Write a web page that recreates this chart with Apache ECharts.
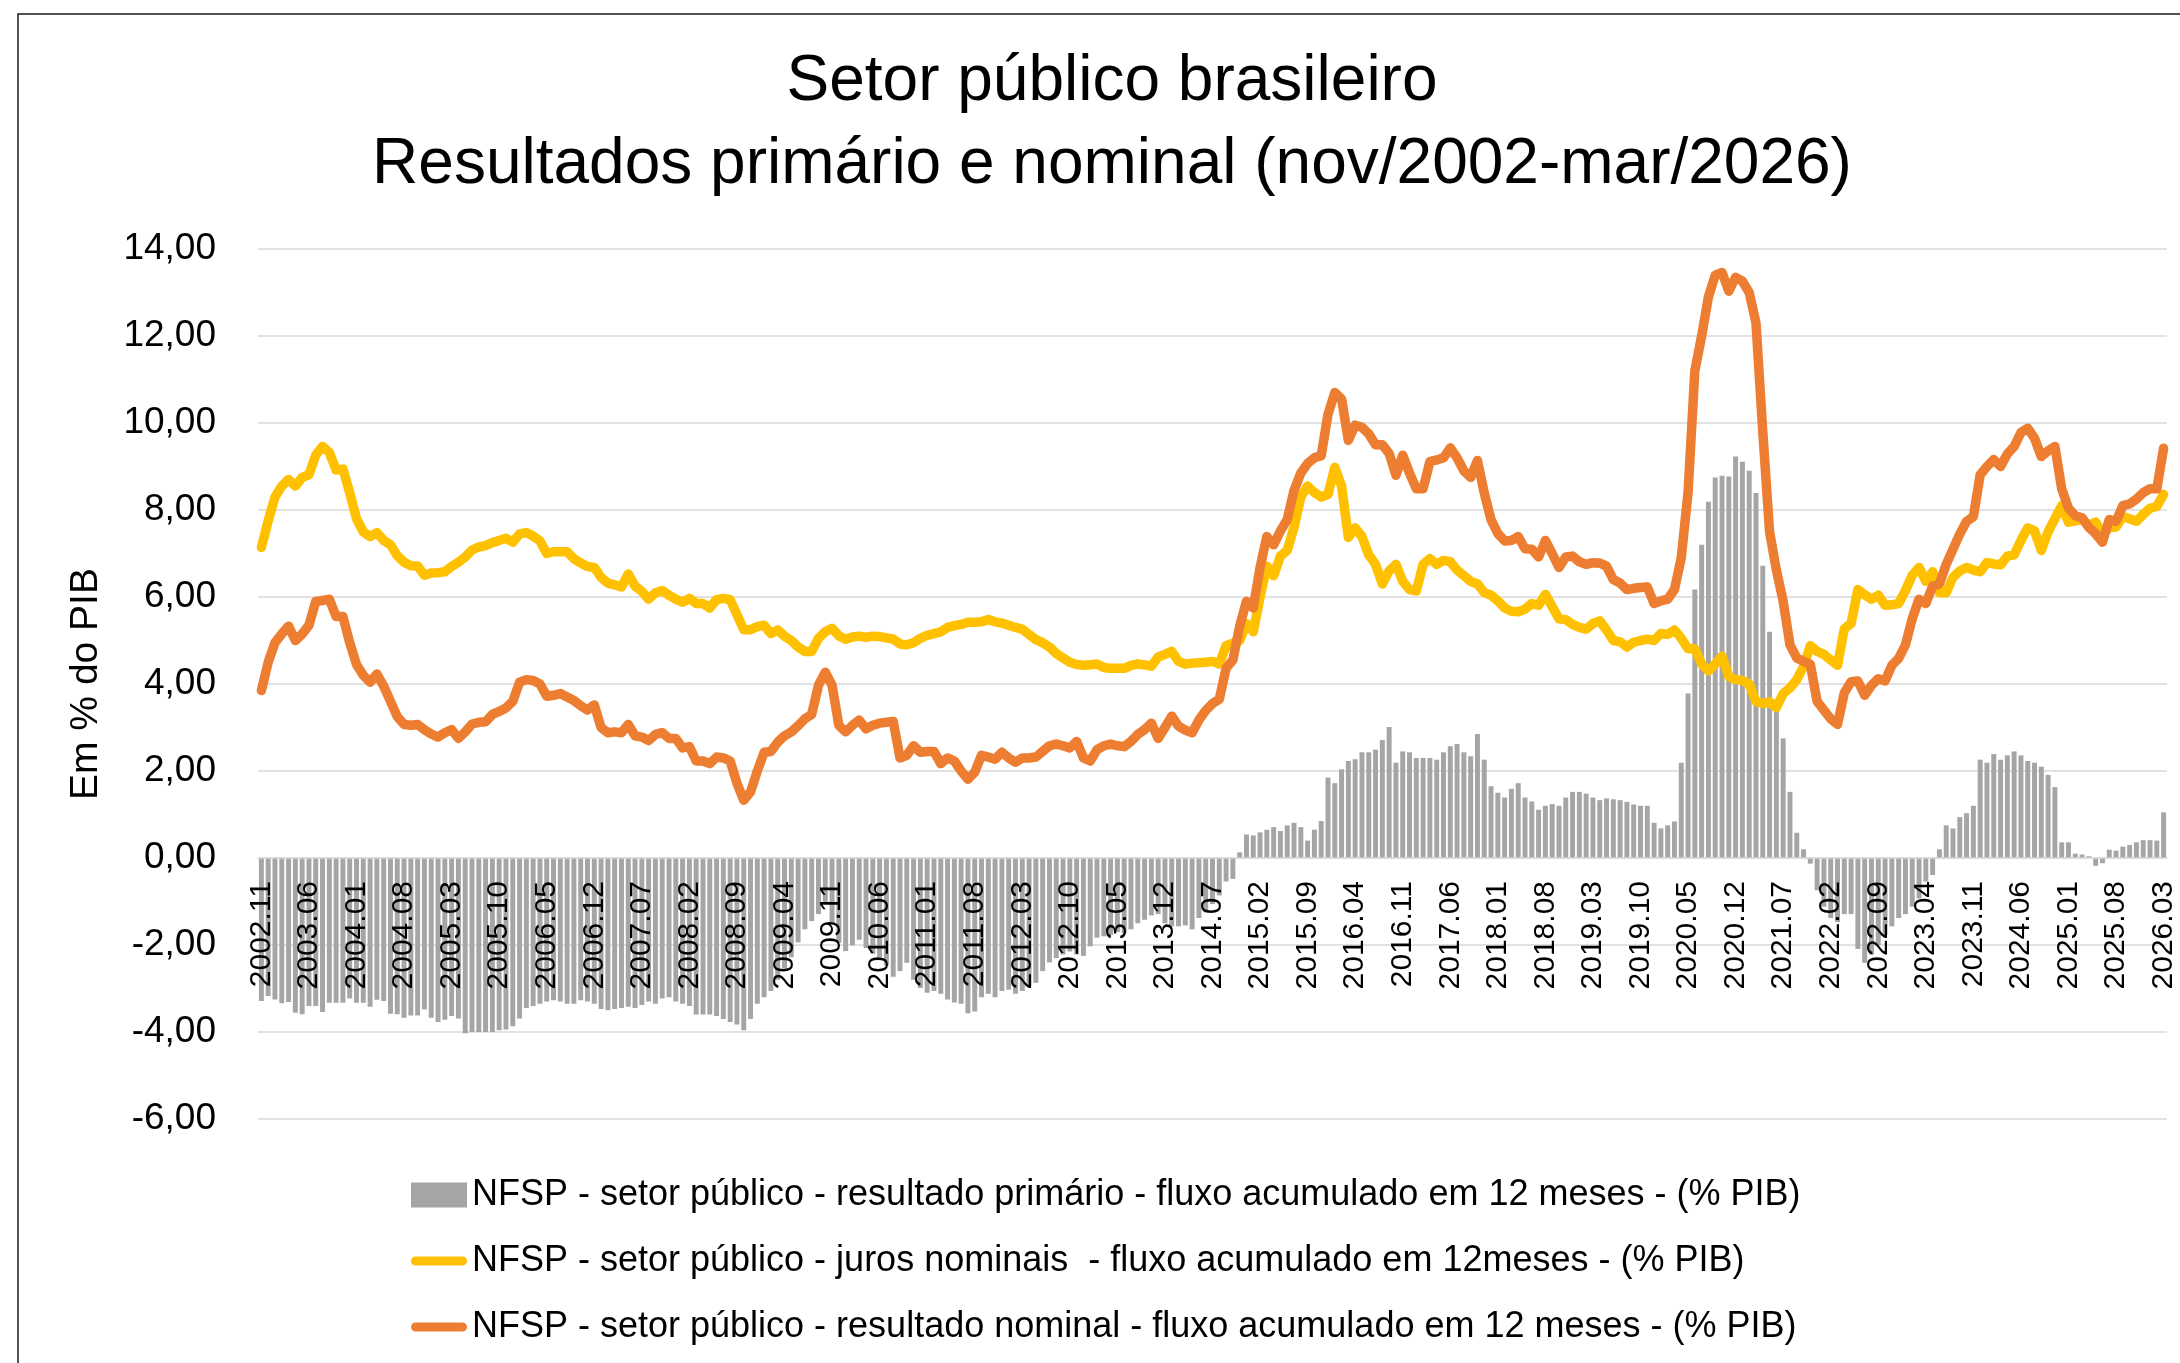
<!DOCTYPE html>
<html>
<head>
<meta charset="utf-8">
<title>Setor público brasileiro</title>
<script src="https://cdn.jsdelivr.net/npm/echarts@6.0.0/dist/echarts.min.js"></script>
<style>
    html, body { margin: 0; padding: 0; background: #fff; }
    #charts { width: 2180px; height: 1363px; }
</style>
</head>
<body>
<div id="charts"></div>
<script>
    // first month of the series: nov/2002, one value per month up to mar/2026
    var startYear = 2002;
    var startMonth = 11;

    // resultado primário, % PIB (negativo = superávit)
    var primario = [
        -3.29, -3.17, -3.25, -3.34, -3.31, -3.56, -3.59, -3.40, -3.40, -3.54, -3.33, -3.33,
        -3.33, -3.23, -3.33, -3.33, -3.42, -3.26, -3.29, -3.58, -3.59, -3.67, -3.62, -3.62,
        -3.48, -3.67, -3.77, -3.72, -3.63, -3.69, -4.03, -4.00, -4.00, -4.00, -4.00, -3.96,
        -3.94, -3.87, -3.69, -3.45, -3.40, -3.35, -3.30, -3.27, -3.30, -3.35, -3.35, -3.27,
        -3.30, -3.35, -3.47, -3.50, -3.47, -3.45, -3.42, -3.45, -3.38, -3.30, -3.35, -3.23,
        -3.20, -3.30, -3.35, -3.40, -3.60, -3.60, -3.60, -3.63, -3.70, -3.77, -3.83, -3.96,
        -3.70, -3.35, -3.20, -3.06, -2.80, -2.54, -2.28, -1.94, -1.64, -1.45, -1.29, -1.06,
        -1.50, -1.95, -2.14, -2.01, -1.88, -2.07, -2.20, -2.28, -2.47, -2.73, -2.60, -2.41,
        -2.80, -2.99, -3.10, -3.06, -3.12, -3.25, -3.32, -3.35, -3.57, -3.53, -3.20, -3.12,
        -3.20, -3.06, -3.03, -3.12, -3.06, -2.94, -2.87, -2.60, -2.40, -2.30, -2.22, -2.15,
        -2.22, -2.25, -2.03, -1.83, -1.80, -1.77, -1.70, -1.73, -1.64, -1.50, -1.42, -1.32,
        -1.29, -1.50, -1.57, -1.57, -1.55, -1.64, -1.38, -1.25, -1.06, -0.86, -0.54, -0.48,
        0.13, 0.54, 0.52, 0.59, 0.65, 0.71, 0.62, 0.75, 0.81, 0.71, 0.40, 0.65,
        0.85, 1.85, 1.72, 2.04, 2.23, 2.27, 2.43, 2.43, 2.49, 2.71, 3.01, 2.19,
        2.45, 2.43, 2.30, 2.30, 2.30, 2.26, 2.43, 2.57, 2.62, 2.43, 2.34, 2.85,
        2.26, 1.65, 1.50, 1.39, 1.59, 1.72, 1.39, 1.30, 1.11, 1.20, 1.24, 1.20,
        1.39, 1.52, 1.52, 1.48, 1.39, 1.33, 1.37, 1.35, 1.33, 1.29, 1.23, 1.20,
        1.20, 0.81, 0.68, 0.75, 0.84, 2.19, 3.78, 6.17, 7.20, 8.19, 8.75, 8.79,
        8.77, 9.23, 9.11, 8.90, 8.39, 6.72, 5.20, 3.43, 2.75, 1.52, 0.58, 0.20,
        -0.13, -0.74, -1.12, -1.38, -1.47, -1.29, -1.29, -2.09, -2.41, -2.22, -2.00, -1.77,
        -1.57, -1.38, -1.29, -1.12, -0.93, -0.54, -0.39, 0.20, 0.75, 0.68, 0.94, 1.03,
        1.20, 2.26, 2.19, 2.39, 2.26, 2.36, 2.45, 2.36, 2.23, 2.19, 2.10, 1.91,
        1.63, 0.36, 0.36, 0.10, 0.08, 0.04, -0.18, -0.12, 0.19, 0.17, 0.26, 0.30,
        0.36, 0.41, 0.41, 0.40, 1.05
    ];

    // juros nominais, % PIB
    var juros = [
        7.14, 7.75, 8.30, 8.55, 8.70, 8.55, 8.75, 8.81, 9.26, 9.46, 9.32, 8.92,
        8.94, 8.40, 7.80, 7.50, 7.39, 7.48, 7.30, 7.20, 6.95, 6.80, 6.72, 6.71,
        6.50, 6.55, 6.56, 6.58, 6.70, 6.80, 6.92, 7.08, 7.15, 7.18, 7.25, 7.30,
        7.35, 7.26, 7.45, 7.48, 7.40, 7.29, 7.00, 7.04, 7.04, 7.04, 6.88, 6.78,
        6.70, 6.68, 6.45, 6.32, 6.28, 6.23, 6.53, 6.25, 6.13, 5.95, 6.10, 6.15,
        6.04, 5.95, 5.88, 5.97, 5.85, 5.85, 5.75, 5.94, 5.97, 5.94, 5.60, 5.25,
        5.25, 5.32, 5.35, 5.16, 5.24, 5.10, 5.00, 4.85, 4.75, 4.75, 5.05, 5.20,
        5.28, 5.11, 5.03, 5.08, 5.10, 5.07, 5.10, 5.09, 5.06, 5.03, 4.92, 4.90,
        4.95, 5.05, 5.12, 5.16, 5.20, 5.30, 5.34, 5.37, 5.42, 5.42, 5.43, 5.48,
        5.43, 5.40, 5.35, 5.30, 5.26, 5.14, 5.02, 4.95, 4.85, 4.70, 4.60, 4.50,
        4.45, 4.43, 4.44, 4.46, 4.38, 4.36, 4.36, 4.36, 4.43, 4.46, 4.44, 4.41,
        4.62, 4.68, 4.75, 4.52, 4.46, 4.48, 4.49, 4.50, 4.52, 4.46, 4.88, 4.94,
        5.00, 5.39, 5.20, 6.00, 6.71, 6.49, 6.94, 7.07, 7.60, 8.30, 8.55, 8.40,
        8.30, 8.36, 8.98, 8.55, 7.37, 7.59, 7.39, 6.97, 6.75, 6.30, 6.60, 6.75,
        6.36, 6.17, 6.14, 6.75, 6.88, 6.75, 6.84, 6.81, 6.62, 6.49, 6.36, 6.30,
        6.10, 6.04, 5.91, 5.75, 5.67, 5.66, 5.72, 5.85, 5.81, 6.06, 5.78, 5.50,
        5.48, 5.37, 5.30, 5.26, 5.39, 5.45, 5.24, 5.00, 4.97, 4.85, 4.96, 5.00,
        5.03, 5.00, 5.16, 5.14, 5.24, 5.05, 4.81, 4.81, 4.46, 4.30, 4.46, 4.64,
        4.17, 4.10, 4.08, 4.00, 3.60, 3.55, 3.59, 3.46, 3.78, 3.91, 4.10, 4.40,
        4.88, 4.75, 4.68, 4.55, 4.43, 5.27, 5.39, 6.17, 6.05, 5.95, 6.04, 5.81,
        5.82, 5.85, 6.15, 6.50, 6.68, 6.36, 6.58, 6.10, 6.10, 6.45, 6.60, 6.68,
        6.62, 6.58, 6.79, 6.76, 6.74, 6.94, 6.97, 7.30, 7.59, 7.52, 7.07, 7.50,
        7.80, 8.10, 7.72, 7.75, 7.78, 7.65, 7.72, 7.46, 7.59, 7.61, 7.85, 7.80,
        7.74, 7.90, 8.04, 8.08, 8.36
    ];

    // resultado nominal, % PIB
    var nominal = [
        3.85, 4.50, 4.95, 5.15, 5.33, 5.00, 5.15, 5.35, 5.90, 5.92, 5.95, 5.55,
        5.55, 4.95, 4.45, 4.20, 4.04, 4.23, 3.95, 3.60, 3.25, 3.07, 3.05, 3.07,
        2.95, 2.85, 2.78, 2.88, 2.95, 2.75, 2.90, 3.08, 3.12, 3.13, 3.30, 3.37,
        3.45, 3.60, 4.04, 4.10, 4.08, 4.00, 3.72, 3.74, 3.78, 3.70, 3.62, 3.50,
        3.40, 3.52, 3.00, 2.88, 2.90, 2.88, 3.07, 2.81, 2.78, 2.70, 2.84, 2.88,
        2.75, 2.75, 2.53, 2.56, 2.23, 2.23, 2.17, 2.32, 2.30, 2.23, 1.72, 1.33,
        1.52, 2.00, 2.43, 2.45, 2.66, 2.81, 2.90, 3.04, 3.20, 3.30, 3.97, 4.27,
        3.97, 3.05, 2.90, 3.05, 3.17, 2.97, 3.05, 3.10, 3.12, 3.14, 2.30, 2.36,
        2.58, 2.43, 2.45, 2.45, 2.17, 2.30, 2.23, 2.00, 1.81, 1.97, 2.36, 2.32,
        2.27, 2.43, 2.30, 2.20, 2.30, 2.30, 2.32, 2.45, 2.58, 2.62, 2.58, 2.53,
        2.68, 2.30, 2.23, 2.49, 2.58, 2.62, 2.58, 2.56, 2.68, 2.84, 2.95, 3.10,
        2.75, 3.00, 3.26, 3.03, 2.94, 2.88, 3.17, 3.39, 3.55, 3.65, 4.36, 4.55,
        5.33, 5.90, 5.75, 6.68, 7.39, 7.20, 7.52, 7.78, 8.45, 8.85, 9.07, 9.20,
        9.25, 10.20, 10.70, 10.55, 9.60, 9.95, 9.90, 9.75, 9.50, 9.50, 9.30, 8.80,
        9.26, 8.85, 8.49, 8.49, 9.11, 9.15, 9.20, 9.43, 9.20, 8.90, 8.75, 9.14,
        8.39, 7.78, 7.46, 7.29, 7.30, 7.39, 7.11, 7.10, 6.92, 7.30, 7.00, 6.68,
        6.92, 6.94, 6.81, 6.75, 6.79, 6.78, 6.71, 6.40, 6.32, 6.17, 6.20, 6.22,
        6.23, 5.85, 5.91, 5.95, 6.17, 6.90, 8.40, 11.20, 12.00, 12.90, 13.40, 13.46,
        13.03, 13.35, 13.26, 13.00, 12.30, 9.80, 7.50, 6.62, 5.90, 4.90, 4.60, 4.52,
        4.45, 3.60, 3.40, 3.20, 3.07, 3.80, 4.05, 4.07, 3.74, 3.97, 4.12, 4.07,
        4.43, 4.59, 4.90, 5.50, 5.95, 5.85, 6.25, 6.30, 6.75, 7.10, 7.45, 7.74,
        7.85, 8.81, 9.00, 9.16, 9.00, 9.29, 9.46, 9.78, 9.88, 9.65, 9.23, 9.36,
        9.46, 8.49, 8.04, 7.87, 7.82, 7.60, 7.45, 7.26, 7.78, 7.74, 8.10, 8.14,
        8.25, 8.40, 8.49, 8.49, 9.42
    ];

    var yTicks = { min: -6, max: 14, step: 2 };

    var nomePrimario = 'NFSP - setor público - resultado primário - fluxo acumulado em 12 meses - (% PIB)';
    var nomeJuros = 'NFSP - setor público - juros nominais  - fluxo acumulado em 12meses - (% PIB)';
    var nomeNominal = 'NFSP - setor público - resultado nominal - fluxo acumulado em 12 meses - (% PIB)';

    var meses = [];
    for (var i = 0; i < primario.length; i++) {
        var t = (startMonth - 1) + i;
        var ano = startYear + Math.floor(t / 12);
        var mes = (t % 12) + 1;
        meses.push(ano + '.' + (mes < 10 ? '0' + mes : mes));
    }

    var fonte = '"Liberation Sans", Arial, sans-serif';
    var iconeLinha = 'path://M5 0 H57 A5 5 0 0 1 57 10 H5 A5 5 0 0 1 5 0 Z';

    // plot area
    var gridTop = 249, gridBottom = 244, gridHeight = 1363 - gridTop - gridBottom;
    // the category axis sits on the zero line (Excel style)
    var zeroOffset = -gridHeight * (0 - yTicks.min) / (yTicks.max - yTicks.min);

    var myCharts = echarts.init(document.getElementById('charts'));
    myCharts.setOption({
        animation: false,
        backgroundColor: '#ffffff',
        textStyle: { fontFamily: fonte, color: '#000' },
        graphic: [
            {
                type: 'rect', silent: true,
                shape: { x: 18, y: 14, width: 2200, height: 1400 },
                style: { fill: 'none', stroke: '#1a1a1a', lineWidth: 1.5 }
            },
            {
                type: 'text', silent: true, x: 1112, y: 82,
                style: {
                    text: 'Setor público brasileiro', fontSize: 64, fontFamily: fonte, fill: '#000',
                    align: 'center', verticalAlign: 'middle', textAlign: 'center', textVerticalAlign: 'middle'
                }
            },
            {
                type: 'text', silent: true, x: 1112, y: 165,
                style: {
                    text: 'Resultados primário e nominal (nov/2002-mar/2026)', fontSize: 64, fontFamily: fonte, fill: '#000',
                    align: 'center', verticalAlign: 'middle', textAlign: 'center', textVerticalAlign: 'middle'
                }
            },
            {
                type: 'text', silent: true, x: 86, y: 684, rotation: Math.PI / 2,
                style: {
                    text: 'Em % do PIB', fontSize: 39, fontFamily: fonte, fill: '#000',
                    align: 'center', verticalAlign: 'middle', textAlign: 'center', textVerticalAlign: 'middle'
                }
            }
        ],
        legend: {
            orient: 'vertical',
            left: 406,
            top: 1170,
            itemWidth: 56,
            itemHeight: 25,
            itemGap: 26,
            selectedMode: false,
            textStyle: { fontSize: 36, lineHeight: 40, color: '#000', fontFamily: fonte },
            data: [
                { name: nomePrimario, icon: 'rect' },
                { name: nomeJuros, icon: iconeLinha },
                { name: nomeNominal, icon: iconeLinha }
            ]
        },
        grid: {
            left: 258,
            right: 13,
            top: gridTop,
            bottom: gridBottom
        },
        xAxis: {
            type: 'category',
            data: meses,
            boundaryGap: true,
            z: 10,
            offset: zeroOffset,
            axisLine: { onZero: false, lineStyle: { color: '#d9d9d9', width: 1.5 } },
            axisTick: { show: false },
            axisLabel: {
                interval: 6,
                rotate: 90,
                margin: 23,
                fontSize: 30,
                color: '#000',
                fontFamily: fonte
            },
            splitLine: { show: false }
        },
        yAxis: {
            type: 'value',
            min: yTicks.min,
            max: yTicks.max,
            interval: yTicks.step,
            axisLine: { show: false },
            axisTick: { show: false },
            axisLabel: {
                margin: 42,
                fontSize: 37,
                color: '#000',
                fontFamily: fonte,
                formatter: function (v) {
                    return v.toFixed(2).replace('.', ',');
                }
            },
            splitLine: { lineStyle: { color: '#d9d9d9', width: 1.5 } }
        },
        series: [
            {
                name: nomePrimario,
                type: 'bar',
                data: primario,
                barCategoryGap: '27%',
                itemStyle: { color: '#a5a5a5' },
                silent: true
            },
            {
                name: nomeJuros,
                type: 'line',
                data: juros,
                symbol: 'none',
                lineStyle: { color: '#ffc000', width: 9.5, cap: 'round', join: 'round' },
                itemStyle: { color: '#ffc000' },
                silent: true
            },
            {
                name: nomeNominal,
                type: 'line',
                data: nominal,
                symbol: 'none',
                lineStyle: { color: '#ed7d31', width: 9.5, cap: 'round', join: 'round' },
                itemStyle: { color: '#ed7d31' },
                silent: true
            }
        ]
    });
</script>
</body>
</html>
